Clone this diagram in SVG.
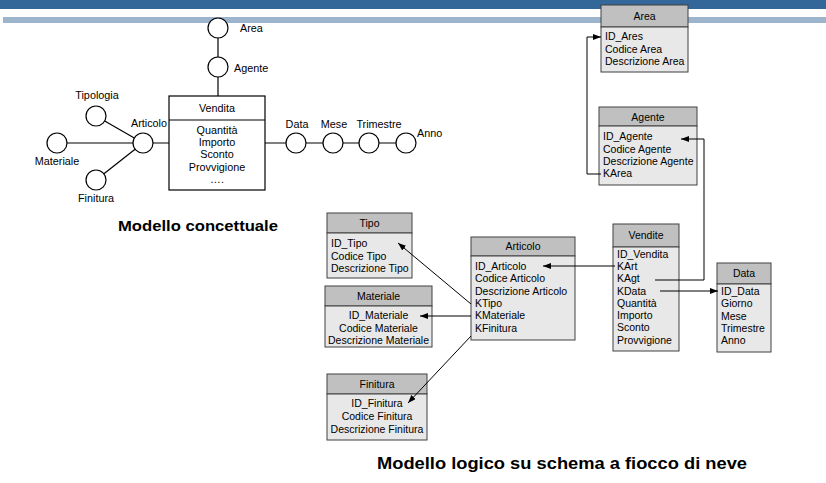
<svg xmlns="http://www.w3.org/2000/svg" width="826" height="483" viewBox="0 0 826 483">
<style>
text{font-family:"Liberation Sans",Arial,sans-serif;font-size:10.5px;fill:#000}
.k text{font-size:10.8px}
.c{text-anchor:middle}
.t{font-weight:bold}
.hd{fill:#c0c0c0;stroke:#404040;stroke-width:1}
.bd{fill:#e8e8e8;stroke:#404040;stroke-width:1}
.ln{stroke:#000;stroke-width:1;fill:none}
.cl{stroke:#000;stroke-width:1.2;fill:none}
.ci{fill:#fff;stroke:#000;stroke-width:1.2}
.vb{fill:#fff;stroke:#000;stroke-width:1.2}
</style>
<defs>
<marker id="ar" viewBox="0 0 8 6" refX="8" refY="3" markerWidth="8" markerHeight="6" markerUnits="userSpaceOnUse" orient="auto">
<path d="M0,0 L8,3 L0,6 Z" fill="#000"/>
</marker>
</defs>
<rect width="826" height="483" fill="#fff"/>
<rect x="0" y="0" width="826" height="9" fill="#336699"/>
<rect x="3" y="17" width="823" height="6" fill="#9db4cd"/>

<g class="k">
<g id="concept-lines">
<line class="cl" x1="218" y1="28" x2="218" y2="96"/>
<line class="cl" x1="57" y1="143" x2="169" y2="143"/>
<line class="cl" x1="96" y1="116" x2="143" y2="143"/>
<line class="cl" x1="96" y1="180" x2="143" y2="143"/>
<line class="cl" x1="265" y1="143" x2="406" y2="143"/>
</g>
<g id="c-area"><circle class="ci" cx="218" cy="28" r="10"/><text x="240" y="32">Area</text></g>
<g id="c-agente"><circle class="ci" cx="218" cy="67" r="10"/><text x="234" y="72">Agente</text></g>
<g id="c-tipologia"><circle class="ci" cx="96" cy="116" r="10"/><text class="c" x="97" y="99">Tipologia</text></g>
<g id="c-materiale"><circle class="ci" cx="57" cy="143" r="10"/><text class="c" x="57" y="165">Materiale</text></g>
<g id="c-finitura"><circle class="ci" cx="96" cy="180" r="10"/><text class="c" x="96" y="202">Finitura</text></g>
<g id="c-articolo"><circle class="ci" cx="143" cy="143" r="10"/><text x="131" y="127">Articolo</text></g>
<g id="c-data"><circle class="ci" cx="296" cy="143" r="10"/><text class="c" x="297" y="128">Data</text></g>
<g id="c-mese"><circle class="ci" cx="333" cy="143" r="10"/><text class="c" x="334" y="128">Mese</text></g>
<g id="c-trimestre"><circle class="ci" cx="369" cy="143" r="10"/><text class="c" x="379" y="128">Trimestre</text></g>
<g id="c-anno"><circle class="ci" cx="406" cy="143" r="10"/><text x="417" y="137">Anno</text></g>
<g id="c-vendita">
<rect class="vb" x="169" y="96" width="96" height="94"/>
<line class="cl" x1="169" y1="120" x2="265" y2="120"/>
<text class="c" x="217" y="112">Vendita</text>
<text class="c" x="217" y="134">Quantità</text>
<text class="c" x="217" y="146">Importo</text>
<text class="c" x="217" y="158">Sconto</text>
<text class="c" x="217" y="171">Provvigione</text>
<text class="c" x="217" y="183">….</text>
</g>
</g>
<text class="t" x="118" y="231" style="font-size:15.5px" textLength="160" lengthAdjust="spacingAndGlyphs">Modello concettuale</text>

<g id="t-area">
<rect class="hd" x="601" y="5" width="87" height="22"/>
<rect class="bd" x="601" y="27" width="87" height="45"/>
<text class="c" x="644.5" y="20">Area</text>
<text x="605" y="40">ID_Ares</text>
<text x="605" y="53">Codice Area</text>
<text x="605" y="65">Descrizione Area</text>
</g>
<g id="t-agente">
<rect class="hd" x="599" y="107" width="98" height="19"/>
<rect class="bd" x="599" y="126" width="98" height="59"/>
<text class="c" x="648" y="121">Agente</text>
<text x="603" y="140">ID_Agente</text>
<text x="603" y="153">Codice Agente</text>
<text x="603" y="165">Descrizione Agente</text>
<text x="603" y="177">KArea</text>
</g>
<g id="t-vendite">
<rect class="hd" x="613" y="224" width="66" height="23"/>
<rect class="bd" x="613" y="247" width="66" height="104"/>
<text class="c" x="646" y="239">Vendite</text>
<text x="617" y="258">ID_Vendita</text>
<text x="617" y="270">KArt</text>
<text x="617" y="282">KAgt</text>
<text x="617" y="295">KData</text>
<text x="617" y="307">Quantità</text>
<text x="617" y="319">Importo</text>
<text x="617" y="331">Sconto</text>
<text x="617" y="344">Provvigione</text>
</g>
<g id="t-data">
<rect class="hd" x="717" y="263" width="54" height="21"/>
<rect class="bd" x="717" y="284" width="54" height="68"/>
<text class="c" x="744" y="277">Data</text>
<text x="721" y="295">ID_Data</text>
<text x="721" y="307">Giorno</text>
<text x="721" y="320">Mese</text>
<text x="721" y="332">Trimestre</text>
<text x="721" y="344">Anno</text>
</g>
<g id="t-articolo">
<rect class="hd" x="471" y="237" width="104" height="19"/>
<rect class="bd" x="471" y="256" width="104" height="84"/>
<text class="c" x="523" y="250">Articolo</text>
<text x="475" y="270">ID_Articolo</text>
<text x="475" y="282">Codice Articolo</text>
<text x="475" y="295">Descrizione Articolo</text>
<text x="475" y="307">KTipo</text>
<text x="475" y="319">KMateriale</text>
<text x="475" y="332">KFinitura</text>
</g>
<g id="t-tipo">
<rect class="hd" x="327" y="213" width="85" height="20"/>
<rect class="bd" x="327" y="233" width="85" height="45"/>
<text class="c" x="369.5" y="227">Tipo</text>
<text x="331" y="247">ID_Tipo</text>
<text x="331" y="260">Codice Tipo</text>
<text x="331" y="272">Descrizione Tipo</text>
</g>
<g id="t-materiale">
<rect class="hd" x="325" y="286" width="107" height="20"/>
<rect class="bd" x="325" y="306" width="107" height="41"/>
<text class="c" x="378.5" y="300">Materiale</text>
<text class="c" x="378.5" y="319">ID_Materiale</text>
<text class="c" x="378.5" y="332">Codice Materiale</text>
<text class="c" x="378.5" y="344">Descrizione Materiale</text>
</g>
<g id="t-finitura">
<rect class="hd" x="327" y="374" width="100" height="20"/>
<rect class="bd" x="327" y="394" width="100" height="46"/>
<text class="c" x="377" y="388">Finitura</text>
<text class="c" x="377" y="407">ID_Finitura</text>
<text class="c" x="377" y="420">Codice Finitura</text>
<text class="c" x="377" y="433">Descrizione Finitura</text>
</g>

<g id="connectors">
<polyline class="ln" points="601,174 587,174 587,37 601,37" marker-end="url(#ar)"/>
<polyline class="ln" points="655,280 704,280 704,139 681,139" marker-end="url(#ar)"/>
<line class="ln" x1="615" y1="266" x2="543" y2="266" marker-end="url(#ar)"/>
<line class="ln" x1="660" y1="291" x2="718" y2="291" marker-end="url(#ar)"/>
<line class="ln" x1="471" y1="304" x2="398" y2="243" marker-end="url(#ar)"/>
<line class="ln" x1="471" y1="316" x2="420" y2="316" marker-end="url(#ar)"/>
<line class="ln" x1="471" y1="336" x2="408" y2="403" marker-end="url(#ar)"/>
</g>
<text class="t" x="377" y="469" style="font-size:16.5px" textLength="370" lengthAdjust="spacingAndGlyphs">Modello logico su schema a fiocco di neve</text>
</svg>
